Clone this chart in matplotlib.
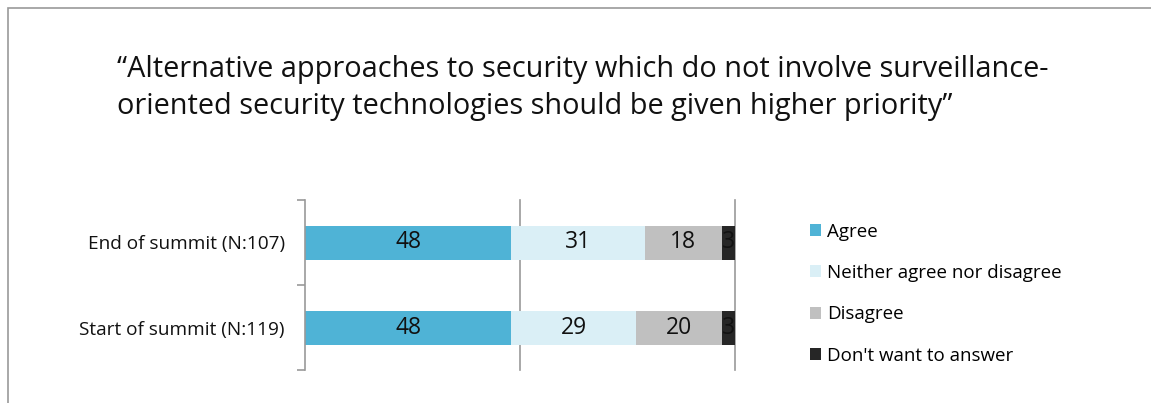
import matplotlib.pyplot as plt
from matplotlib.patches import Rectangle, Patch

# survey responses, percent
groups = ['Start of summit (N:119)', 'End of summit (N:107)']
answers = ['Agree', 'Neither agree nor disagree', 'Disagree', "Don't want to answer"]
agree = [48, 48]
neither = [29, 31]
disagree = [20, 18]
no_answer = [3, 3]
colors = ['#4fb3d6', '#daeff6', '#c0c0c0', '#262626']

title = ('\u201cAlternative approaches to security which do not involve surveillance-\n'
         'oriented security technologies should be given higher priority\u201d')

plt.rcParams['font.family'] = ['Open Sans', 'DejaVu Sans']

fig = plt.figure(figsize=(11.51, 4.03), dpi=100)

# thin grey frame round the figure
fig.patches.append(Rectangle((8 / 1151, -0.1), 1.2, 1.1 - 8 / 403, transform=fig.transFigure,
                             fill=False, edgecolor='#999999', linewidth=1.2))

fig.text(117 / 1151, 1 - 55 / 403, title, fontsize=20.8, va='top', ha='left',
         linespacing=1.36, color='#111111')

ax = fig.add_axes([305 / 1151, 1 - 370 / 403, 430 / 1151, 170 / 403])

series = [agree, neither, disagree, no_answer]
y = list(range(len(groups)))
left = [0] * len(groups)
for vals, name, col in zip(series, answers, colors):
    bars = ax.barh(y, vals, left=left, height=0.4, color=col, label=name, zorder=2)
    ax.bar_label(bars, labels=[str(v) for v in vals], label_type='center',
                 fontsize=16.5, color='#111111')
    left = [l + v for l, v in zip(left, vals)]

ax.set_xlim(0, 100)
ax.set_ylim(-0.5, 1.5)
for xv in (50, 100):
    ax.axvline(xv, color='#999999', linewidth=1.2, zorder=1, clip_on=False)

ax.set_xticks([])
ax.set_yticks(y)
ax.set_yticklabels(groups, fontsize=13.7, color='#111111')
ax.tick_params(axis='y', which='major', length=0, pad=14.5)
ax.set_yticks([-0.5, 0.5, 1.5], minor=True)
ax.tick_params(axis='y', which='minor', length=6, color='#999999', width=1.2)
for side in ('top', 'right', 'bottom'):
    ax.spines[side].set_visible(False)
ax.spines['left'].set_color('#999999')
ax.spines['left'].set_linewidth(1.2)

handles = [Patch(facecolor=c, label=a) for c, a in zip(colors, answers)]
fig.legend(handles=handles, loc='upper left', bbox_to_anchor=(802 / 1151, 1 - 215 / 403),
           frameon=False, fontsize=13.5, handlelength=0.6, handleheight=0.6,
           handletextpad=0.35, labelspacing=1.25, borderaxespad=0)

fig.savefig('out.png', dpi=100)
